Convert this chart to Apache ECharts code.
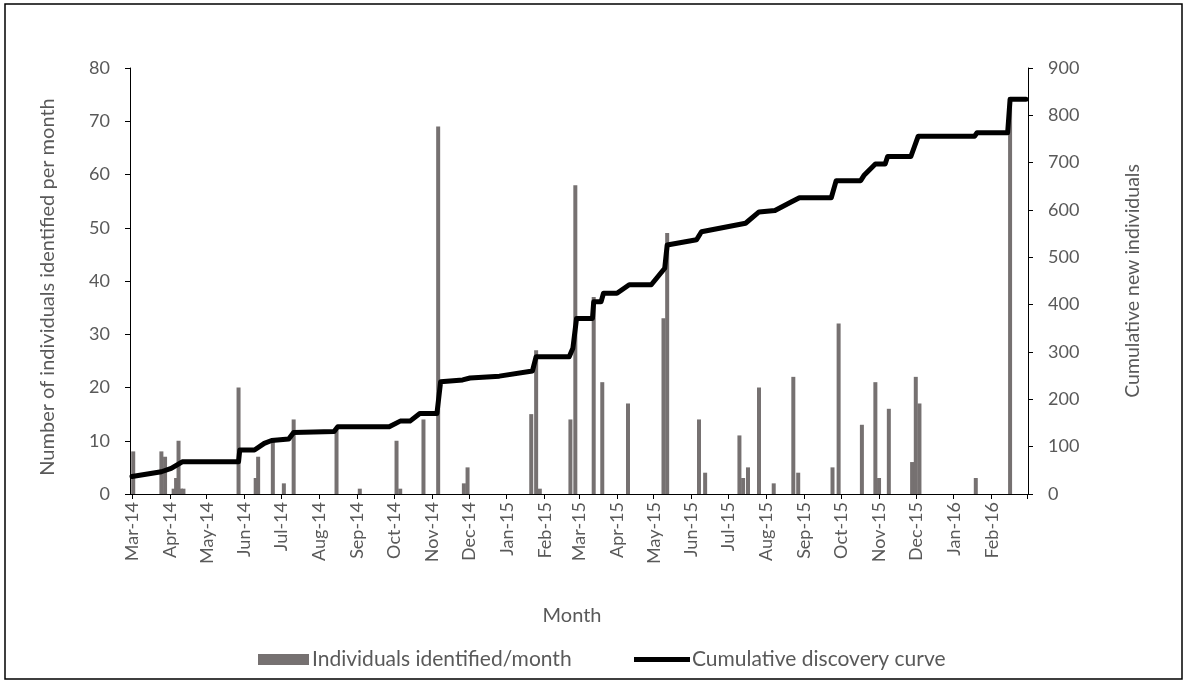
<!DOCTYPE html>
<html>
<head>
<meta charset="utf-8">
<script src="https://cdn.jsdelivr.net/npm/echarts@6/dist/echarts.min.js"></script>
<style>
html,body{margin:0;padding:0;background:#fff;}
#chart{width:1187px;height:684px;}
</style>
</head>
<body>
<div id="chart"></div>
<script>
// ---- data ----
const barDates = [
  '2014-03-02','2014-03-25','2014-03-28','2014-04-04','2014-04-06','2014-04-08','2014-04-10','2014-04-12',
  '2014-05-27','2014-06-10','2014-06-12','2014-06-24','2014-07-03','2014-07-11','2014-08-15','2014-09-03',
  '2014-10-03','2014-10-06','2014-10-25','2014-11-06','2014-11-27','2014-11-30',
  '2015-01-21','2015-01-25','2015-01-28','2015-02-22','2015-02-26','2015-03-13','2015-03-20','2015-04-10',
  '2015-05-09','2015-05-12','2015-06-07','2015-06-12','2015-07-10','2015-07-13','2015-07-17','2015-07-26',
  '2015-08-07','2015-08-23','2015-08-27','2015-09-24','2015-09-29','2015-10-18','2015-10-29','2015-11-01',
  '2015-11-09','2015-11-28','2015-12-01','2015-12-04','2016-01-19','2016-02-16'
];
const barValues = [
  8,8,7,1,3,10,1,1,
  20,3,7,10,2,14,12,1,
  10,1,14,69,2,5,
  15,27,1,14,58,37,21,17,
  33,49,14,4,11,3,5,20,
  2,22,4,5,32,13,21,3,
  16,6,22,17,3,74
];
const lineDates = [
  '2014-03-01','2014-03-25','2014-04-02','2014-04-11','2014-05-27','2014-05-28','2014-06-09','2014-06-17',
  '2014-06-23','2014-07-07','2014-07-11','2014-08-13','2014-08-16','2014-09-27','2014-10-06','2014-10-14',
  '2014-10-22','2014-11-05','2014-11-08','2014-11-26','2014-12-02','2014-12-26','2015-01-22','2015-01-25',
  '2015-02-21','2015-02-24','2015-02-27','2015-03-12','2015-03-13','2015-03-19','2015-03-21','2015-04-01',
  '2015-04-11','2015-04-29','2015-05-10','2015-05-12','2015-06-05','2015-06-09','2015-07-15','2015-07-26',
  '2015-08-08','2015-08-22','2015-08-28','2015-09-23','2015-09-27','2015-10-17','2015-10-20','2015-10-29',
  '2015-11-06','2015-11-08','2015-11-27','2015-12-03','2016-01-18','2016-01-20','2016-02-14','2016-02-16',
  '2016-02-29'
];
const lineValues = [
  37,47,54,68,68,93,93,107,
  113,116,130,132,142,142,154,154,
  170,170,237,241,245,249,260,290,
  290,308,371,371,406,406,424,424,
  442,442,477,526,537,554,572,596,
  599,618,626,626,662,662,674,697,
  697,713,713,756,756,763,763,834,
  834
];
const monthNames = ['Jan','Feb','Mar','Apr','May','Jun','Jul','Aug','Sep','Oct','Nov','Dec'];
const leftTicks = {min:0, max:80, interval:10};
const rightTicks = {min:0, max:900, interval:100};
const xRange = {min:'2014-03-01', max:'2016-02-29'};

const barData = barDates.map((d,i)=>[d, barValues[i]]);
const lineData = lineDates.map((d,i)=>[d, lineValues[i]]);

const FONT = 'Lato';
const TXT = '#595959';
const DAY = 86400000;
const xMaxTime = new Date(xRange.max + 'T00:00:00').getTime();

const chart = echarts.init(document.getElementById('chart'), null, {renderer:'canvas'});
chart.setOption({
  backgroundColor:'#fff',
  animation:false,
  textStyle:{fontFamily:FONT, color:TXT},
  grid:{left:130, right:159, top:68, bottom:190, containLabel:false},
  graphic:[{
    type:'rect', silent:true,
    shape:{x:5, y:4, width:1177, height:675},
    style:{fill:'none', stroke:'#000', lineWidth:1.5}
  }],
  legend:[{
    left:258, top:649, padding:0, itemWidth:51, itemHeight:11,
    icon:'rect',
    data:['Individuals identified/month'],
    textStyle:{fontFamily:FONT, fontSize:21, color:TXT, padding:[0,0,0,-2]}
  },{
    left:634, top:649, padding:0, itemWidth:56, itemHeight:5,
    icon:'rect',
    data:[{name:'Cumulative discovery curve', itemStyle:{color:'#000'}}],
    textStyle:{fontFamily:FONT, fontSize:21, color:TXT, padding:[0,0,0,-3]}
  }],
  xAxis:{
    type:'time',
    min:xRange.min, max:xRange.max,
    minInterval:28*DAY, maxInterval:31*DAY, splitNumber:24,
    name:'Month', nameLocation:'middle', nameGap:112,
    nameTextStyle:{fontFamily:FONT, fontSize:20, color:TXT, padding:[0,14,0,0]},
    axisLine:{lineStyle:{color:'#000', width:1}},
    axisTick:{show:true, inside:false, length:5, lineStyle:{color:'#000'}},
    splitLine:{show:false},
    minorTick:{show:false},
    axisLabel:{
      rotate:90, fontFamily:FONT, fontSize:18, color:TXT, margin:8,
      showMaxLabel:false, hideOverlap:false,
      formatter:function(v){
        const d=new Date(v);
        if (d.getDate()!==1 || v > xMaxTime - DAY) return '';
        return monthNames[d.getMonth()]+'-'+String(d.getFullYear()).slice(2);
      }
    }
  },
  yAxis:[{
    type:'value', min:leftTicks.min, max:leftTicks.max, interval:leftTicks.interval,
    name:'Number of individuals identified per month', nameLocation:'middle', nameGap:72, nameRotate:90,
    nameTextStyle:{fontFamily:FONT, fontSize:20, color:TXT, padding:[0,12,0,0]},
    axisLine:{show:true, lineStyle:{color:'#000', width:1}},
    axisTick:{show:true, length:5, lineStyle:{color:'#000'}},
    splitLine:{show:false},
    axisLabel:{fontFamily:FONT, fontSize:18, color:TXT, margin:20}
  },{
    type:'value', min:rightTicks.min, max:rightTicks.max, interval:rightTicks.interval,
    position:'right',
    name:'Cumulative new individuals', nameLocation:'middle', nameGap:95, nameRotate:90,
    nameTextStyle:{fontFamily:FONT, fontSize:19.5, color:TXT},
    axisLine:{show:true, lineStyle:{color:'#000', width:1}},
    axisTick:{show:true, length:5, lineStyle:{color:'#000'}},
    splitLine:{show:false},
    axisLabel:{fontFamily:FONT, fontSize:18, color:TXT, margin:20}
  }],
  series:[{
    name:'Individuals identified/month',
    type:'bar', xAxisIndex:0, yAxisIndex:0,
    data:barData, barWidth:4,
    itemStyle:{color:'#767171'}, z:2
  },{
    name:'Cumulative discovery curve',
    type:'line', xAxisIndex:0, yAxisIndex:1,
    data:lineData, symbol:'none', showSymbol:false,
    lineStyle:{color:'#000', width:5, join:'round', cap:'round'},
    itemStyle:{color:'#000'}, z:3
  }]
});
</script>
</body>
</html>
